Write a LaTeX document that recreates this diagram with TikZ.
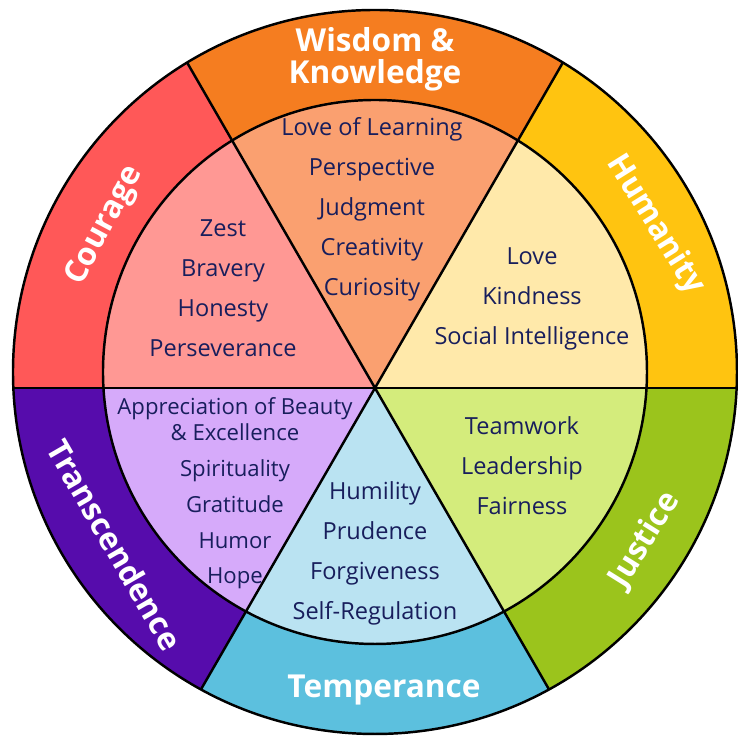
\documentclass[tikz,border=0pt]{standalone}
\usepackage{fontspec}
\setmainfont{Open Sans}
\usetikzlibrary{positioning}
\definecolor{wisdomdark}{RGB}{245,125,32}
\definecolor{wisdomlight}{RGB}{250,160,112}
\definecolor{humanitydark}{RGB}{255,196,16}
\definecolor{humanitylight}{RGB}{255,233,170}
\definecolor{justicedark}{RGB}{155,196,28}
\definecolor{justicelight}{RGB}{212,236,124}
\definecolor{temperancedark}{RGB}{92,192,222}
\definecolor{temperancelight}{RGB}{186,227,242}
\definecolor{transcendencedark}{RGB}{86,12,172}
\definecolor{transcendencelight}{RGB}{214,170,250}
\definecolor{couragedark}{RGB}{255,88,88}
\definecolor{couragelight}{RGB}{255,152,148}
\definecolor{virtuetext}{RGB}{24,30,92}

\begin{document}
\begin{tikzpicture}[
        virtue/.style={align=center, text=virtuetext, font=\fontsize{6.7}{11.4}\selectfont},
        strength/.style={align=center, text=white, font=\fontsize{9}{9.2}\selectfont\bfseries},
        rim/.style={line width=0.7pt, draw=black}
    ]
    \useasboundingbox (-3.75,-3.65) rectangle (3.63,3.72);
    % wedges, the spokes meet a bit below the centre
    \foreach \a/\dark/\light in {0/humanitydark/humanitylight, 60/wisdomdark/wisdomlight, 120/couragedark/couragelight, 180/transcendencedark/transcendencelight, 240/temperancedark/temperancelight, 300/justicedark/justicelight}{
        \begin{scope}
            \clip[shift={(0,-0.16)}] (0,0) -- (\a:6) -- (\a+60:6) -- cycle;
            \fill[\dark] (0,0) circle (3.62);
            \fill[\light] (0,0) circle (2.72);
        \end{scope}
    }
    \coordinate (hub) at (0,-0.16);
    \begin{scope}
        \clip (0,0) circle (3.62);
        \foreach \a in {0,60,...,300}
            \draw[rim] (hub) -- +(\a:4);
    \end{scope}
    \draw[rim] (0,0) circle (2.72) (0,0) circle (3.62);

    \node[strength] (wisdom) at (0,3.13) {Wisdom \&\\Knowledge};
    \node[strength, rotate=-58] (humanity) at (2.80,1.47) {Humanity};
    \node[strength, rotate=58] (justice) at (2.70,-1.68) {Justice};
    \node[strength] (temperance) at (0.09,-3.18) {Temperance};
    \node[strength, rotate=-60] (transcendence) at (-2.60,-1.73) {Transcendence};
    \node[strength, rotate=62] (courage) at (-2.70,1.46) {Courage};

    \node[virtue] (wisdomlist) at (-0.03,1.63) {Love of Learning\\Perspective\\Judgment\\Creativity\\Curiosity};
    \node[virtue] (couragelist) at (-1.52,0.84) {Zest\\Bravery\\Honesty\\Perseverance};
    \node[virtue] (humanitylist) at (1.57,0.73) {Love\\Kindness\\Social Intelligence};
    \node[virtue] (justicelist) at (1.47,-0.94) {Teamwork\\Leadership\\Fairness};
    \node[virtue] (temperancelist) at (0,-1.81) {Humility\\Prudence\\Forgiveness\\Self-Regulation};
    \node[virtue, font=\fontsize{6.3}{10.2}\selectfont] (transcendencelist) at (-1.40,-1.215) {Appreciation of Beauty\\[-0.1cm]\& Excellence\\Spirituality\\Gratitude\\Humor\\Hope};
\end{tikzpicture}
\end{document}
